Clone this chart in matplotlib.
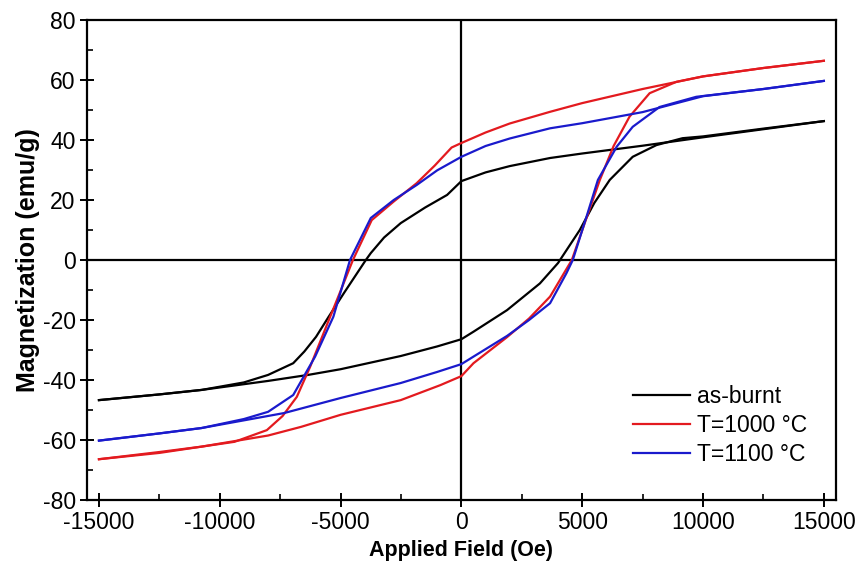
import matplotlib
matplotlib.use("Agg")
import matplotlib.pyplot as plt
from matplotlib.ticker import MultipleLocator

plt.rcParams['font.family'] = ['Liberation Sans', 'DejaVu Sans']
plt.rcParams['axes.unicode_minus'] = False

# as-burnt: branch coming down from +15000 Oe, then going back up
asb_down_h = [15000, 12500, 10000, 7500, 5000, 3670, 2000, 1000, 0, -590, -1500,
              -2510, -3200, -3750, -3955, -4860, -5500, -6015, -6500, -6960,
              -8000, -9000, -10750, -12500, -15000]
asb_down_m = [46.3, 43.6, 40.9, 38.1, 35.5, 34.0, 31.3, 29.2, 26.3, 21.7, 17.5,
              12.3, 7.5, 2.3, 0.0, -11.0, -19.0, -25.6, -30.5, -34.4,
              -38.3, -40.8, -43.3, -44.8, -46.7]
asb_up_h = [-15000, -12500, -10750, -8000, -6345, -5000, -2510, -1000, 0, 500,
            1890, 3250, 4000, 4900, 5500, 6140, 7090, 8070, 9150, 10000,
            12500, 15000]
asb_up_m = [-46.7, -44.8, -43.3, -40.3, -38.3, -36.4, -32.0, -28.8, -26.4, -23.9,
            -16.7, -7.8, -1.0, 10.0, 19.0, 26.7, 34.4, 38.3, 40.6, 41.2,
            43.8, 46.3]

# T=1000 C
t1000_down_h = [15000, 12500, 10000, 7500, 5000, 3670, 2000, 1000, 0, -405, -1100,
                -1851, -2800, -3711, -4490, -5000, -5500, -6260, -6810,
                -7400, -8050, -9390, -10750, -12500, -15000]
t1000_down_m = [66.4, 64.0, 61.2, 57.0, 52.3, 49.4, 45.5, 42.5, 39.0, 37.5, 31.5,
                25.6, 19.5, 13.3, 0.0, -10.3, -20.3, -35.6, -45.6,
                -52.0, -56.7, -60.6, -62.2, -64.0, -66.4]
t1000_up_h = [-15000, -12500, -10750, -8000, -6630, -5000, -2510, -870, 0, 500,
              1890, 2800, 3670, 4570, 5000, 5730, 6300, 6960, 7790,
              8900, 10000, 12500, 15000]
t1000_up_m = [-66.4, -64.3, -62.2, -58.5, -55.6, -51.6, -46.7, -41.7, -38.7, -34.4,
              -25.7, -19.5, -12.2, 0.0, 9.9, 26.7, 38.0, 47.8, 55.6,
              59.4, 61.2, 64.0, 66.4]

# T=1100 C
t1100_down_h = [15000, 12500, 10000, 7500, 5000, 3670, 2000, 1000, 0, -1000,
                -1851, -2800, -3750, -4610, -5298, -6054, -6960, -8000,
                -9000, -10750, -12500, -15000]
t1100_down_m = [59.7, 57.0, 54.6, 49.3, 45.6, 43.9, 40.5, 38.0, 34.4, 29.9,
                25.0, 20.0, 14.0, 0.0, -18.9, -32.2, -45.0, -50.6,
                -53.0, -56.0, -57.8, -60.2]
t1100_up_h = [-15000, -12500, -10750, -7330, -5000, -2510, -1000, 0, 500, 1890,
              2800, 3670, 4347, 4610, 5200, 5650, 6430, 7090, 8200, 9720,
              12500, 15000]
t1100_up_m = [-60.2, -57.8, -56.0, -51.0, -46.0, -41.0, -37.3, -34.7, -32.2, -25.3,
              -20.0, -14.4, -4.4, 0.0, 15.0, 26.7, 37.8, 44.4, 51.0, 54.4,
              57.0, 59.7]

labels = ["as-burnt", "T=1000 \u00b0C", "T=1100 \u00b0C"]
colors = ["black", "#e31a1f", "#1a1acc"]

fig = plt.figure(figsize=(8.6, 5.65), dpi=100)
ax = fig.add_axes([0.101, 0.115, 0.871, 0.8496])

ax.axhline(0, color="black", lw=1.6, zorder=1)
ax.axvline(0, color="black", lw=1.6, zorder=1)

branches = [
    (asb_down_h, asb_down_m, asb_up_h, asb_up_m),
    (t1000_down_h, t1000_down_m, t1000_up_h, t1000_up_m),
    (t1100_down_h, t1100_down_m, t1100_up_h, t1100_up_m),
]
for (dh, dm, uh, um), lab, col in zip(branches, labels, colors):
    ax.plot(dh, dm, color=col, lw=1.6, label=lab, zorder=2)
    ax.plot(uh, um, color=col, lw=1.6, zorder=2)

ax.set_xlim(-15500, 15500)
ax.set_ylim(-80, 80)
ax.xaxis.set_major_locator(MultipleLocator(5000))
ax.xaxis.set_minor_locator(MultipleLocator(2500))
ax.yaxis.set_major_locator(MultipleLocator(20))
ax.yaxis.set_minor_locator(MultipleLocator(10))
ax.tick_params(which="major", direction="inout", length=10, width=1.4,
               labelsize=16.5, pad=3, top=False, right=False)
ax.tick_params(which="minor", direction="in", length=4, width=1.2,
               top=False, right=False)
for sp in ax.spines.values():
    sp.set_linewidth(1.6)

ax.set_xlabel("Applied Field (Oe)", fontsize=15.5, fontweight="bold", labelpad=4)
ax.set_ylabel("Magnetization (emu/g)", fontsize=18, fontweight="bold", labelpad=2)

ax.legend(loc="upper left", bbox_to_anchor=(0.729, 0.24), frameon=False,
          fontsize=16.5, handlelength=2.5, handletextpad=0.3, labelspacing=0.26,
          borderpad=0, borderaxespad=0)

fig.savefig("out.png", dpi=100)
